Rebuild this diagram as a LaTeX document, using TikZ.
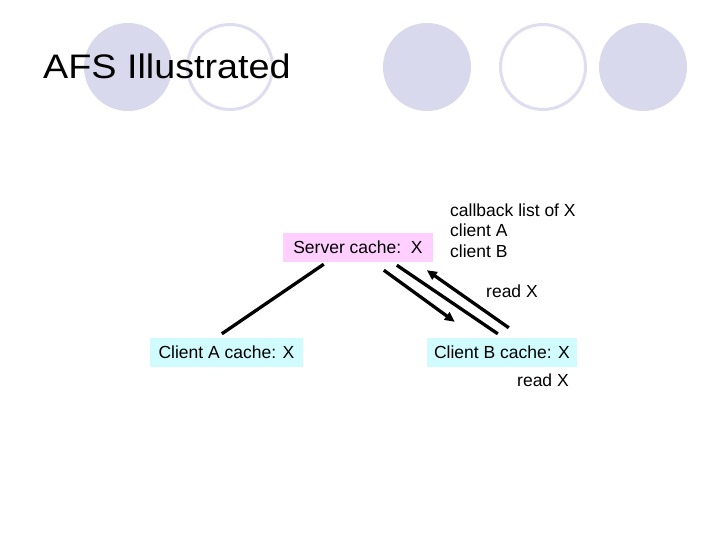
\documentclass[tikz,border=0pt]{standalone}
\usepackage{fontspec}
\setmainfont{Liberation Sans}
\usetikzlibrary{arrows.meta}
\definecolor{lav}{RGB}{217,217,237}
\definecolor{lavline}{RGB}{222,222,240}
\definecolor{pinkbox}{RGB}{255,208,255}
\definecolor{cyanbox}{RGB}{208,252,255}
\tikzset{
  dot/.style={fill=lav, draw=none},
  ring/.style={draw=lavline, line width=3pt, fill=white},
  cachebox/.style={inner sep=0pt, minimum height=29pt, font=\fontsize{17.5}{21}\selectfont},
  lbl/.style={inner sep=0pt, font=\fontsize{17.5}{21}\selectfont},
  conn/.style={line width=3.3pt},
  arr/.style={line width=3.3pt, -{Triangle[length=10pt,width=9pt]}}
}
\begin{document}
\begin{tikzpicture}[x=1pt,y=-1pt]
\useasboundingbox (0,0) rectangle (720,540);
% decorative circles
\fill[dot] (128,67) circle (44);
\draw[ring] (230,67) circle (42.5);
\fill[dot] (427,67) circle (44);
\draw[ring] (543,67) circle (42.5);
\fill[dot] (643,67) circle (44);
% title
\node[anchor=base west, inner sep=0pt, font=\fontsize{34}{40}\selectfont] (title) at (43,79) {\scalebox{1.11}[1]{AFS Illustrated}};
% boxes
\node[cachebox, fill=pinkbox, minimum width=150pt] (server) at (358,247.5) {Server cache:~~X};
\node[cachebox, fill=cyanbox, minimum width=153pt] (clientA) at (226.5,352.5) {Client A cache: X};
\node[cachebox, fill=cyanbox, minimum width=150pt] (clientB) at (502,352.5) {Client B cache: X};
% labels
\node[lbl, anchor=base west, align=left] (cb) at (450,258) {callback list of X\\client A\\client B};
\node[lbl, anchor=base west] (read1) at (486,297) {read X};
\node[lbl, anchor=base west] (read2) at (517,386) {read X};
% connectors
\draw[conn] ([xshift=41pt,yshift=-2pt]server.south west) -- ([xshift=72pt,yshift=4pt]clientA.north west);
\draw[arr] ([xshift=101pt,yshift=-8pt]server.south west) -- ([xshift=28pt,yshift=16pt]clientB.north west);
\draw[conn] ([xshift=114pt,yshift=-3pt]server.south west) -- ([xshift=71pt,yshift=4pt]clientB.north west);
\draw[arr] ([xshift=82pt,yshift=10pt]clientB.north west) -- ([xshift=144pt,yshift=-8pt]server.south west);
\end{tikzpicture}
\end{document}
